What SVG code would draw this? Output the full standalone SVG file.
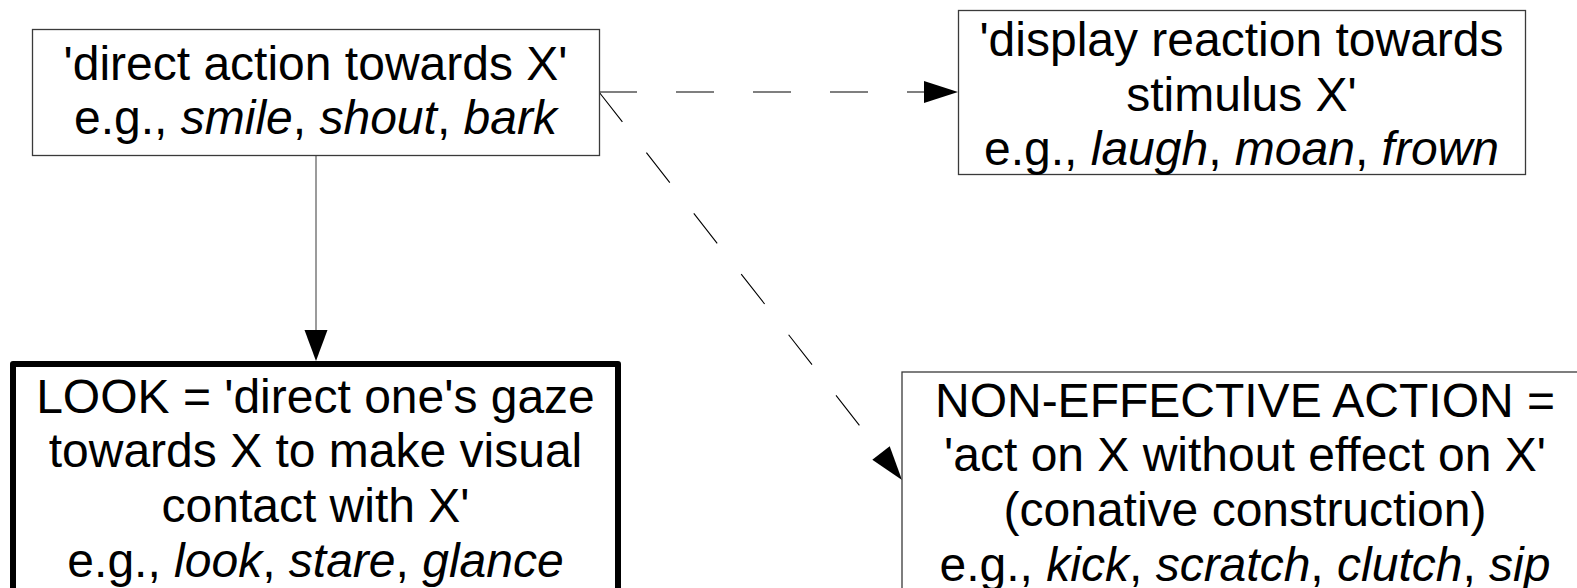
<svg xmlns="http://www.w3.org/2000/svg" width="1577" height="588" viewBox="0 0 1577 588">
<style>
.box{fill:#fff;stroke:#3a3a3a;stroke-width:1.3}
.thick{fill:#fff;stroke:#000;stroke-width:6;stroke-linejoin:round}
.t{font-family:"Liberation Sans",Arial,sans-serif;font-size:48px;fill:#000;text-anchor:middle}
.i{font-style:italic}
.dash{stroke:#000;stroke-width:1.1;stroke-dasharray:38 39;fill:none}
.solid{stroke:#7a7a7a;stroke-width:1.5;fill:none}
.ah{fill:#000}
</style>
<g id="connectors">
<line class="solid" x1="316" y1="155.5" x2="316" y2="332"/>
<polygon class="ah" points="316,361 304.5,330 327.5,330"/>
<line class="dash" x1="599" y1="92" x2="926" y2="92"/>
<polygon class="ah" points="958,92 924,81 924,103"/>
<line class="dash" x1="599" y1="92" x2="881" y2="453"/>
<polygon class="ah" points="902,480 889.7,446.2 872.3,459.8"/>
</g>
<g id="n1">
<rect class="box" x="32.5" y="29.5" width="567" height="126"/>
<text class="t" x="315.5" y="79.5">'direct action towards X'</text>
<text class="t" x="315.5" y="134"><tspan>e.g., </tspan><tspan class="i">smile</tspan><tspan>, </tspan><tspan class="i">shout</tspan><tspan>, </tspan><tspan class="i">bark</tspan></text>
</g>
<g id="n2">
<rect class="box" x="958.5" y="10.5" width="567" height="164"/>
<text class="t" x="1241.5" y="56">'display reaction towards</text>
<text class="t" x="1241.5" y="110.5">stimulus X'</text>
<text class="t" x="1241.5" y="165"><tspan>e.g., </tspan><tspan class="i">laugh</tspan><tspan>, </tspan><tspan class="i">moan</tspan><tspan>, </tspan><tspan class="i">frown</tspan></text>
</g>
<g id="n3">
<rect class="thick" x="13" y="364" width="605" height="240"/>
<text class="t" x="315.5" y="412.7">LOOK = 'direct one's gaze</text>
<text class="t" x="315.5" y="467.3">towards X to make visual</text>
<text class="t" x="315.5" y="521.9">contact with X'</text>
<text class="t" x="315.5" y="576.5"><tspan>e.g., </tspan><tspan class="i">look</tspan><tspan>, </tspan><tspan class="i">stare</tspan><tspan>, </tspan><tspan class="i">glance</tspan></text>
</g>
<g id="n4">
<rect class="box" x="902" y="372" width="700" height="240"/>
<text class="t" x="1245" y="416.7">NON-EFFECTIVE ACTION =</text>
<text class="t" x="1245" y="471.3">'act on X without effect on X'</text>
<text class="t" x="1245" y="525.9">(conative construction)</text>
<text class="t" x="1245" y="580.5"><tspan>e.g., </tspan><tspan class="i">kick</tspan><tspan>, </tspan><tspan class="i">scratch</tspan><tspan>, </tspan><tspan class="i">clutch</tspan><tspan>, </tspan><tspan class="i">sip</tspan></text>
</g>
</svg>
